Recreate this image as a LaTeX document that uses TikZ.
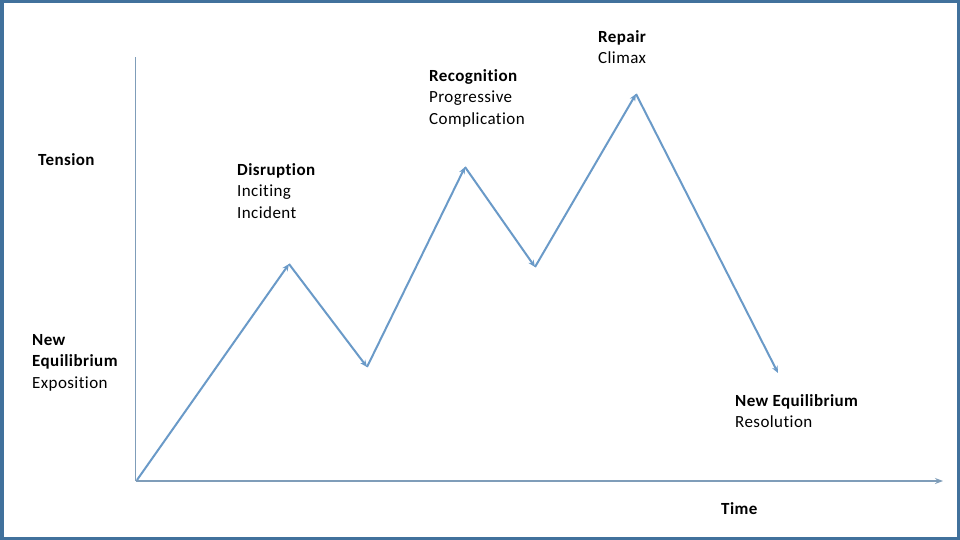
\documentclass[tikz,border=0pt]{standalone}
\usepackage{fontspec}
\setmainfont[Ligatures=NoCommon,LetterSpace=2.5]{Carlito}
\usetikzlibrary{arrows.meta}
\definecolor{frame}{HTML}{41719C}
\definecolor{zig}{HTML}{6A9AC8}
\definecolor{axis}{HTML}{7F9DB9}
\tikzset{
  lbl/.style={anchor=west,align=left,inner sep=0pt,font=\fontsize{17}{21.5}\selectfont,text=black},
  zigline/.style={draw=zig,line width=2pt,-{Stealth[length=7pt,width=6pt]}},
  axisline/.style={draw=axis,line width=1.3pt}
}
\begin{document}
\begin{tikzpicture}[x=1pt,y=-1pt]
\useasboundingbox (0,0) rectangle (960,540);
\fill[white] (0,0) rectangle (960,540);
\draw[frame,line width=3.5pt] (1.75,1.75) rectangle (958.25,538.25);
% axes
\coordinate (o) at (135.5,481);
\coordinate (ytop) at (135.5,57);
\coordinate (xend) at (943,481);
\draw[axisline] (o) -- (ytop);
\draw[axisline,-{Stealth[length=8pt,width=6pt]}] (o) -- (xend);
% zigzag vertices
\coordinate (p0) at (137,480);
\coordinate (p1) at (289,264);
\coordinate (p2) at (367,367);
\coordinate (p3) at (465,167);
\coordinate (p4) at (535,267);
\coordinate (p5) at (636,94);
\coordinate (p6) at (778,373);
\draw[zigline] (p0) -- (p1);
\draw[zigline] (p1) -- (p2);
\draw[zigline] (p2) -- (p3);
\draw[zigline] (p3) -- (p4);
\draw[zigline] (p4) -- (p5);
\draw[zigline] (p5) -- (p6);
% labels
\node[lbl] (tension) at (38,160) {\textbf{Tension}};
\node[lbl,anchor=north west] (disr) at (237,163) {\textbf{Disruption}\\Inciting\\Incident};
\node[lbl,anchor=north west] (recog) at (429,69) {\textbf{Recognition}\\Progressive\\Complication};
\node[lbl,anchor=north west] (repair) at (598,30) {\textbf{Repair}\\Climax};
\node[lbl,anchor=north west] (expo) at (32,334) {\textbf{New}\\\textbf{Equilibrium}\\Exposition};
\node[lbl,anchor=north west] (resol) at (735,394) {\textbf{New Equilibrium}\\Resolution};
\node[lbl] (time) at (721,509) {\textbf{Time}};
\end{tikzpicture}
\end{document}
